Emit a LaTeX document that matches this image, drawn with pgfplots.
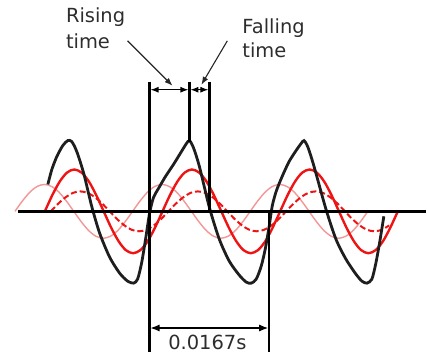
\documentclass[border=0pt]{standalone}
\usepackage{pgfplots}
\pgfplotsset{compat=1.18}
\usepackage{fontspec}
\setmainfont{DejaVu Sans}
\usetikzlibrary{arrows.meta}
\definecolor{pinkw}{RGB}{244,150,150}
\definecolor{redw}{RGB}{238,20,20}
\definecolor{blackw}{RGB}{30,30,30}
\definecolor{txt}{RGB}{45,45,45}
\begin{document}
\begin{tikzpicture}
\begin{axis}[
  scale only axis, width=427pt, height=356pt,
  xmin=0, xmax=427, ymin=-144, ymax=212,
  axis lines=none, ticks=none, clip=false,
]
\path (axis cs:0,-144) rectangle (axis cs:427,212);
% light pink sine
\addplot[pinkw, line width=1.4pt, smooth] coordinates {
(15.0,0)(22.4,10.3)(29.8,19.1)(37.1,24.9)(44.5,27)(51.9,24.9)(59.3,19.1)(66.6,10.3)
(74.0,0)(81.4,-10.3)(88.8,-19.1)(96.1,-24.9)(103.5,-27)(110.9,-24.9)(118.3,-19.1)(125.6,-10.3)
(133.0,0)(140.4,10.3)(147.8,19.1)(155.1,24.9)(162.5,27)(169.9,24.9)(177.3,19.1)(184.6,10.3)
(192.0,0)(199.4,-10.3)(206.8,-19.1)(214.1,-24.9)(221.5,-27)(228.9,-24.9)(236.3,-19.1)(243.6,-10.3)
(251.0,0)(258.4,10.3)(265.8,19.1)(273.1,24.9)(280.5,27)(287.9,24.9)(295.3,19.1)(302.6,10.3)
(310.0,0)(317.4,-10.3)(324.8,-19.1)(332.1,-24.9)(339.5,-27)(346.9,-24.9)(354.3,-19.1)(361.6,-10.3)
(369.0,0)};
% red solid sine
\addplot[redw, line width=2.4pt, smooth] coordinates {
(45.0,0)(52.4,16.1)(59.8,29.7)(67.1,38.8)(74.5,42)(81.9,38.8)(89.3,29.7)(96.6,16.1)
(104.0,0)(111.4,-16.1)(118.8,-29.7)(126.1,-38.8)(133.5,-42)(140.9,-38.8)(148.3,-29.7)(155.6,-16.1)
(163.0,0)(170.4,16.1)(177.8,29.7)(185.1,38.8)(192.5,42)(199.9,38.8)(207.3,29.7)(214.6,16.1)
(222.0,0)(229.4,-16.1)(236.8,-29.7)(244.1,-38.8)(251.5,-42)(258.9,-38.8)(266.3,-29.7)(273.6,-16.1)
(281.0,0)(288.4,16.1)(295.8,29.7)(303.1,38.8)(310.5,42)(317.9,38.8)(325.3,29.7)(332.6,16.1)
(340.0,0)(347.4,-16.1)(354.8,-29.7)(362.1,-38.8)(369.5,-42)(376.9,-38.8)(384.3,-29.7)(391.6,-16.1)
(399.0,0)};
% red dashed sine
\addplot[redw, line width=2pt, smooth, dash pattern=on 6pt off 3pt] coordinates {
(51.0,0)(58.4,7.7)(65.8,14.1)(73.1,18.5)(80.5,20)(87.9,18.5)(95.3,14.1)(102.6,7.7)
(110.0,0)(117.4,-7.7)(124.8,-14.1)(132.1,-18.5)(139.5,-20)(146.9,-18.5)(154.3,-14.1)(161.6,-7.7)
(169.0,0)(176.4,7.7)(183.8,14.1)(191.1,18.5)(198.5,20)(205.9,18.5)(213.3,14.1)(220.6,7.7)
(228.0,0)(235.4,-7.7)(242.8,-14.1)(250.1,-18.5)(257.5,-20)(264.9,-18.5)(272.3,-14.1)(279.6,-7.7)
(287.0,0)(294.4,7.7)(301.8,14.1)(309.1,18.5)(316.5,20)(323.9,18.5)(331.3,14.1)(338.6,7.7)
(346.0,0)(353.4,-7.7)(360.8,-14.1)(368.1,-18.5)(375.5,-20)(382.9,-18.5)(390.3,-14.1)};
% black distorted wave
\addplot[blackw, line width=2.8pt, smooth, tension=0.45] coordinates {
(48,27)(52,42)(57,55)(63,66)(68,71)(72,70)(77,60)(84,38)(92,5)(100,-22)(110,-46)(120,-62)(128,-70)(134,-72)(138,-68)(142,-52)(146,-28)(150,-2)(154,14)(159,23)(166,35)(174,47)(182,60)(187,68)(190,71)(194,64)(200,45)(210,4)(220,-28)(230,-50)(240,-64)(247,-71)(252,-72)(257,-68)(262,-55)(266,-38)(270,-15)(273,5)(277,20)(283,35)(290,50)(297,61)(302,68)(305,71)(309,64)(315,45)(327,2)(337,-28)(347,-48)(357,-63)(363,-70)(368,-72)(373,-68)(377,-52)(381,-30)(385,-5)};
% baseline
\addplot[black, line width=2.6pt] coordinates {(18,0)(427,0)};
% vertical lines
\addplot[black, line width=2.6pt] coordinates {(150,130)(150,-141)};
\addplot[black, line width=2.6pt] coordinates {(190,130)(190,70)};
\addplot[black, line width=2.6pt] coordinates {(210,130)(210,0)};
\addplot[black, line width=2.6pt] coordinates {(270,0)(270,-141)};
% dimension arrows
\addplot[black, line width=1.1pt, {Latex[length=8pt,width=6pt]}-{Latex[length=8pt,width=6pt]}] coordinates {(151,122)(189,122)};
\addplot[black, line width=1.1pt, {Latex[length=8pt,width=6pt]}-{Latex[length=8pt,width=6pt]}] coordinates {(191,122)(209,122)};
\addplot[black, line width=1.1pt, {Latex[length=9pt,width=7pt]}-{Latex[length=9pt,width=7pt]}] coordinates {(151,-117)(269,-117)};
% pointer lines
\addplot[black!85, line width=1.1pt, -{Latex[length=8pt,width=6pt]}] coordinates {(128,171)(173,126)};
\addplot[black!85, line width=1.1pt, -{Latex[length=8pt,width=6pt]}] coordinates {(228,171)(202,127)};
% labels
\node[anchor=base west, inner sep=0pt, text=txt, font=\fontsize{19.5}{23}\selectfont] at (axis cs:66,189) {Rising};
\node[anchor=base west, inner sep=0pt, text=txt, font=\fontsize{19.5}{23}\selectfont] at (axis cs:66,163) {time};
\node[anchor=base west, inner sep=0pt, text=txt, font=\fontsize{19.5}{23}\selectfont] at (axis cs:243,178) {Falling};
\node[anchor=base west, inner sep=0pt, text=txt, font=\fontsize{19.5}{23}\selectfont] at (axis cs:243,154) {time};
\node[anchor=base, inner sep=0pt, text=txt, font=\fontsize{19.5}{23}\selectfont] at (axis cs:208,-139) {0.0167s};
\end{axis}
\end{tikzpicture}
\end{document}
